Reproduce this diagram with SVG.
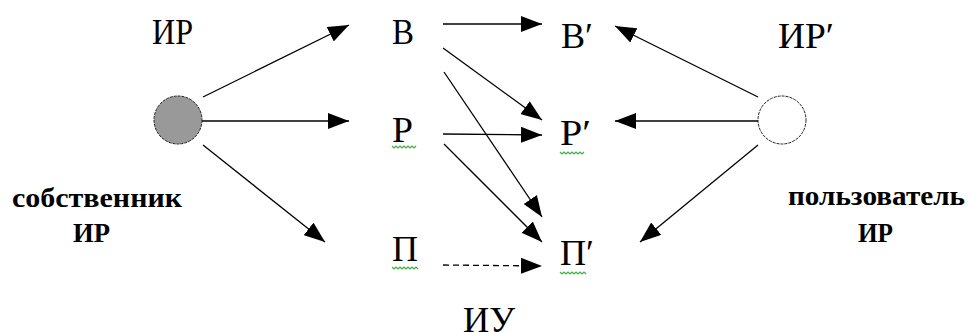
<svg xmlns="http://www.w3.org/2000/svg" width="970" height="332" viewBox="0 0 970 332">
<style>
text{font-family:"Liberation Serif","Times New Roman",Times,"DejaVu Serif","Noto Serif",serif}
.t{font-size:36px;fill:#000}
.b{font-size:28px;font-weight:bold;fill:#000}
.ln{stroke:#000;stroke-width:1.3;fill:none}
.sq{stroke:#3cb040;stroke-width:1.2;fill:none}
.c{stroke:#222;stroke-width:1;stroke-dasharray:3,1}
</style>
<defs>
<marker id="ah" viewBox="0 0 21 16" refX="21" refY="8" markerWidth="21" markerHeight="16" markerUnits="userSpaceOnUse" orient="auto">
<path d="M0,0 L21,8 L0,16 z" fill="#000"/>
</marker>
</defs>
<g id="owner" font-family="Liberation Serif, serif">
<circle cx="178" cy="120" r="24" fill="#999" class="c"/>
<text class="t" x="152" y="44" textLength="41" lengthAdjust="spacingAndGlyphs">ИР</text>
<text class="b" x="12" y="207" textLength="170" lengthAdjust="spacingAndGlyphs">собственник</text>
<text class="b" x="73" y="242" textLength="37" lengthAdjust="spacingAndGlyphs">ИР</text>
</g>
<g id="user">
<circle cx="782" cy="120" r="24" fill="#fff" class="c"/>
<text class="t" x="778" y="48" textLength="56" lengthAdjust="spacingAndGlyphs">ИР′</text>
<text class="b" x="788" y="205" textLength="177" lengthAdjust="spacingAndGlyphs">пользователь</text>
<text class="b" x="858" y="242" textLength="35" lengthAdjust="spacingAndGlyphs">ИР</text>
</g>
<g id="V"><text class="t" x="392" y="44" textLength="22" lengthAdjust="spacingAndGlyphs">В</text></g>
<g id="R"><text class="t" x="392" y="142" textLength="21" lengthAdjust="spacingAndGlyphs">Р</text>
<polyline class="sq" points="392,146 394,148 396,146 398,148 400,146 402,148 404,146 406,148 408,146 410,148 412,146 414,148 416,146"/></g>
<g id="P"><text class="t" x="392" y="261" textLength="26" lengthAdjust="spacingAndGlyphs">П</text>
<polyline class="sq" points="392,267 394,269 396,267 398,269 400,267 402,269 404,267 406,269 408,267 410,269 412,267 414,269 416,267 418,269"/></g>
<g id="V2"><text class="t" x="561" y="48" textLength="32" lengthAdjust="spacingAndGlyphs">В′</text></g>
<g id="R2"><text class="t" x="560" y="145" textLength="31" lengthAdjust="spacingAndGlyphs">Р′</text>
<polyline class="sq" points="560,152 562,154 564,152 566,154 568,152 570,154 572,152 574,154 576,152 578,154 580,152 582,154 584,152"/></g>
<g id="P2"><text class="t" x="560" y="265" textLength="34" lengthAdjust="spacingAndGlyphs">П′</text>
<polyline class="sq" points="560,272 562,274 564,272 566,274 568,272 570,274 572,272 574,274 576,272 578,274 580,272 582,274 584,272 586,274"/></g>
<g id="IU"><text class="t" x="463" y="332" textLength="52" lengthAdjust="spacingAndGlyphs">ИУ</text></g>
<g id="connectors">
<line class="ln" x1="203" y1="97" x2="349" y2="25" marker-end="url(#ah)" stroke-width="1"/>
<line class="ln" x1="202" y1="121" x2="349" y2="121" marker-end="url(#ah)"/>
<line class="ln" x1="203" y1="145" x2="325" y2="242" marker-end="url(#ah)" stroke-width="1"/>
<line class="ln" x1="443" y1="24" x2="542" y2="24" marker-end="url(#ah)"/>
<line class="ln" x1="443" y1="48" x2="542" y2="120" marker-end="url(#ah)" stroke-width="1"/>
<line class="ln" x1="444" y1="72" x2="542" y2="217" marker-end="url(#ah)" stroke-width="1"/>
<line class="ln" x1="443" y1="134" x2="542" y2="135" marker-end="url(#ah)"/>
<line class="ln" x1="444" y1="144" x2="542" y2="242" marker-end="url(#ah)" stroke-width="1"/>
<line class="ln" x1="443" y1="265" x2="542" y2="266" marker-end="url(#ah)" stroke-dasharray="6,4"/>
<line class="ln" x1="758" y1="97" x2="615" y2="26" marker-end="url(#ah)" stroke-width="1"/>
<line class="ln" x1="758" y1="121" x2="615" y2="121" marker-end="url(#ah)"/>
<line class="ln" x1="758" y1="145" x2="640" y2="242" marker-end="url(#ah)" stroke-width="1"/>
</g>
</svg>
